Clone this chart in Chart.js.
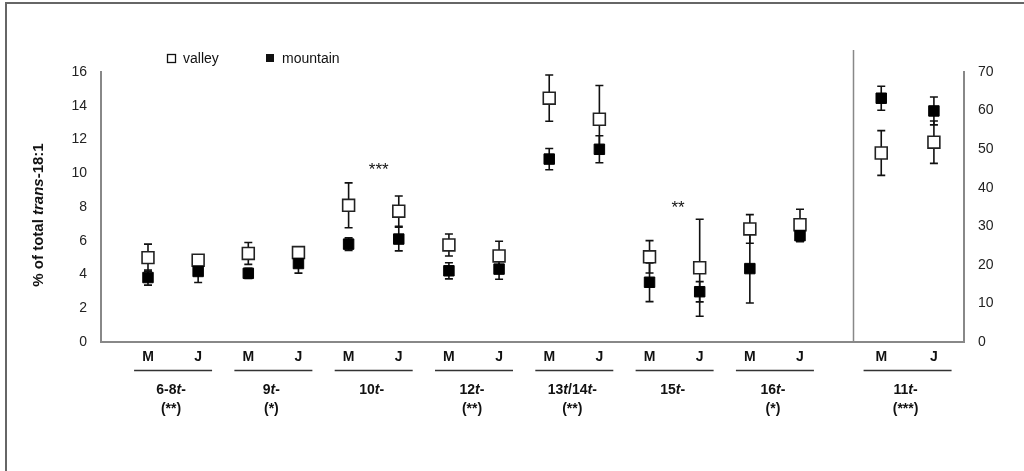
<!DOCTYPE html>
<html>
<head>
<meta charset="utf-8">
<script src="https://cdn.jsdelivr.net/npm/chart.js@4.4.1/dist/chart.umd.min.js"></script>
<style>
  html, body { margin: 0; padding: 0; background: #fff; }
  canvas { display: block; }
</style>
</head>
<body>
<canvas id="transChart" width="1024" height="471"></canvas>
<script>
// groups of trans-18:1 isomers, each measured in M and J
const groups = ['6-8t-', '9t-', '10t-', '12t-', '13t/14t-', '15t-', '16t-', '11t-'];
const groupSig = ['(**)', '(*)', '', '(**)', '(**)', '', '(*)', '(***)'];
const seasons = ['M', 'J'];

// left panel (% of total, left axis)
const valleyMean = [5.0, 4.85, 5.25, 5.3, 8.1, 7.75, 5.75, 5.1, 14.45, 13.2, 5.05, 4.4, 6.7, 6.95];
const valleyErr = [0.8, 0.3, 0.65, 0.3, 1.33, 0.9, 0.65, 0.87, 1.37, 2.0, 0.96, 2.87, 0.85, 0.92];
const mountainMean = [3.82, 4.18, 4.07, 4.65, 5.8, 6.1, 4.22, 4.32, 10.84, 11.42, 3.54, 2.98, 4.35, 6.3];
const mountainErr = [0.45, 0.65, 0.3, 0.57, 0.37, 0.7, 0.48, 0.6, 0.63, 0.8, 1.15, 0.6, 2.04, 0.35];

// right panel, 11t- (right axis)
const valley11t = [49.0, 51.8];
const valley11tErr = [5.8, 5.5];
const mountain11t = [63.2, 59.9];
const mountain11tErr = [3.1, 3.6];

const leftTicks = [0, 2, 4, 6, 8, 10, 12, 14, 16];
const rightTicks = [0, 10, 20, 30, 40, 50, 60, 70];

// significance stars inside the plot (x in slot units, y on left axis)
const sigMarks = [
  { x: 5.6, y: 10.4, text: '***' },
  { x: 11.57, y: 8.18, text: '**' }
];

const FONT = '"Liberation Sans", Arial, sans-serif';

// x slots: left panel 1..14, right panel sits after a separator
const leftX = valleyMean.map((v, i) => i + 1);
const rightX = [15.62, 16.67];
const separatorX = 15.06;

const toPts = (xs, ys, errs) => ys.map((y, i) => ({ x: xs[i], y: y, err: errs[i] }));

function richParts(label) {
  return label.split(/(t)/).filter(s => s !== '').map(s => ({ text: s, italic: s === 't' }));
}

function drawRich(ctx, parts, cx, cy, size, weight) {
  let total = 0;
  parts.forEach(p => {
    ctx.font = (p.italic ? 'italic ' : '') + weight + ' ' + size + 'px ' + FONT;
    p.w = ctx.measureText(p.text).width;
    total += p.w;
  });
  let x = cx - total / 2;
  ctx.textAlign = 'left';
  ctx.textBaseline = 'middle';
  parts.forEach(p => {
    ctx.font = (p.italic ? 'italic ' : '') + weight + ' ' + size + 'px ' + FONT;
    ctx.fillText(p.text, x, cy);
    x += p.w;
  });
}

const decorations = {
  id: 'decorations',
  beforeDatasetsDraw(chart) {
    const ctx = chart.ctx;
    const xs = chart.scales.x;
    ctx.save();
    // panel separator
    const sx = Math.round(xs.getPixelForValue(separatorX)) + 0.5;
    ctx.strokeStyle = '#888';
    ctx.lineWidth = 1.5;
    ctx.beginPath();
    ctx.moveTo(sx, 50);
    ctx.lineTo(sx, chart.chartArea.bottom);
    ctx.stroke();
    // error bars
    ctx.strokeStyle = '#111';
    ctx.lineWidth = 1.6;
    chart.data.datasets.forEach(ds => {
      const ys = chart.scales[ds.yAxisID];
      ds.data.forEach(p => {
        const x = xs.getPixelForValue(p.x);
        const yt = ys.getPixelForValue(p.y + p.err);
        const yb = ys.getPixelForValue(p.y - p.err);
        ctx.beginPath();
        ctx.moveTo(x, yt); ctx.lineTo(x, yb);
        ctx.moveTo(x - 4, yt); ctx.lineTo(x + 4, yt);
        ctx.moveTo(x - 4, yb); ctx.lineTo(x + 4, yb);
        ctx.stroke();
      });
    });
    ctx.restore();
  },
  afterDraw(chart) {
    const ctx = chart.ctx;
    const xs = chart.scales.x;
    const yl = chart.scales.y;
    ctx.save();
    ctx.fillStyle = '#111';

    // outer frame (left and top edges)
    ctx.strokeStyle = '#666';
    ctx.lineWidth = 2;
    ctx.beginPath();
    ctx.moveTo(6, 471); ctx.lineTo(6, 3); ctx.lineTo(1024, 3);
    ctx.stroke();

    // legend
    ctx.lineWidth = 1.3;
    ctx.strokeStyle = '#111';
    ctx.strokeRect(167.5, 54.5, 8, 8);
    ctx.fillRect(266, 54, 8, 8);
    ctx.font = '14px ' + FONT;
    ctx.textAlign = 'left';
    ctx.textBaseline = 'middle';
    ctx.fillText('valley', 183, 59);
    ctx.fillText('mountain', 282, 59);

    // y axis title
    ctx.save();
    ctx.translate(39, 215);
    ctx.rotate(-Math.PI / 2);
    drawRich(ctx, [
      { text: '% of total ', italic: false },
      { text: 'trans', italic: true },
      { text: '-18:1', italic: false }
    ], 0, 0, 15, 'bold');
    ctx.restore();

    // season labels, group underlines and names
    ctx.strokeStyle = '#333';
    ctx.lineWidth = 1.5;
    groups.forEach((g, gi) => {
      const pos = gi < groups.length - 1 ? [leftX[gi * 2], leftX[gi * 2 + 1]] : rightX;
      const px = pos.map(v => xs.getPixelForValue(v));
      ctx.font = 'bold 14px ' + FONT;
      ctx.textAlign = 'center';
      ctx.textBaseline = 'middle';
      seasons.forEach((s, si) => ctx.fillText(s, px[si], 357));
      const mid = (px[0] + px[1]) / 2;
      const half = gi < groups.length - 1 ? 39 : 44;
      ctx.beginPath();
      ctx.moveTo(mid - half, 370.5);
      ctx.lineTo(mid + half, 370.5);
      ctx.stroke();
      drawRich(ctx, richParts(g), mid - 2, 390, 14, 'bold');
      if (groupSig[gi]) {
        ctx.font = 'bold 14px ' + FONT;
        ctx.textAlign = 'center';
        ctx.fillText(groupSig[gi], mid - 2, 409);
      }
    });

    // significance stars
    ctx.font = '17px ' + FONT;
    ctx.textAlign = 'center';
    ctx.textBaseline = 'middle';
    sigMarks.forEach(m => ctx.fillText(m.text, xs.getPixelForValue(m.x), yl.getPixelForValue(m.y) + 4));
    ctx.restore();
  }
};

const valleyStyle = {
  pointStyle: 'rect', pointRadius: 8.4, pointHoverRadius: 8.4,
  pointBackgroundColor: '#fff', pointBorderColor: '#222', pointBorderWidth: 1.6
};
const mountainStyle = {
  pointStyle: 'rect', pointRadius: 7.4, pointHoverRadius: 7.4,
  pointBackgroundColor: '#000', pointBorderColor: '#000', pointBorderWidth: 1
};

const ctx = document.getElementById('transChart').getContext('2d');
const transChart = new Chart(ctx, {
  type: 'scatter',
  data: {
    datasets: [
      Object.assign({ label: 'mountain', yAxisID: 'y', order: 1, data: toPts(leftX, mountainMean, mountainErr) }, mountainStyle),
      Object.assign({ label: 'mountain 11t', yAxisID: 'y2', order: 1, data: toPts(rightX, mountain11t, mountain11tErr) }, mountainStyle),
      Object.assign({ label: 'valley', yAxisID: 'y', order: 2, data: toPts(leftX, valleyMean, valleyErr) }, valleyStyle),
      Object.assign({ label: 'valley 11t', yAxisID: 'y2', order: 2, data: toPts(rightX, valley11t, valley11tErr) }, valleyStyle)
    ]
  },
  options: {
    responsive: false,
    animation: false,
    devicePixelRatio: 1,
    layout: { padding: { top: 72, left: 0, right: 0, bottom: 0 } },
    plugins: {
      legend: { display: false },
      tooltip: { enabled: false }
    },
    scales: {
      x: {
        type: 'linear',
        min: 0.063,
        max: 17.27,
        grid: { display: false },
        border: { color: '#888', width: 2 },
        ticks: { display: false },
        afterFit: s => { s.height = 129; }
      },
      y: {
        position: 'left',
        min: 0,
        max: 16,
        afterBuildTicks: s => { s.ticks = leftTicks.map(v => ({ value: v })); },
        grid: { display: false, drawTicks: false },
        border: { color: '#888', width: 2 },
        ticks: { padding: 14, color: '#222', font: { size: 14, family: FONT } },
        afterFit: s => { s.width = 101; }
      },
      y2: {
        position: 'right',
        min: 0,
        max: 70,
        afterBuildTicks: s => { s.ticks = rightTicks.map(v => ({ value: v })); },
        grid: { display: false, drawTicks: false },
        border: { color: '#888', width: 2 },
        ticks: { padding: 14, color: '#222', font: { size: 14, family: FONT } },
        afterFit: s => { s.width = 60; }
      }
    }
  },
  plugins: [decorations]
});
</script>
</body>
</html>
